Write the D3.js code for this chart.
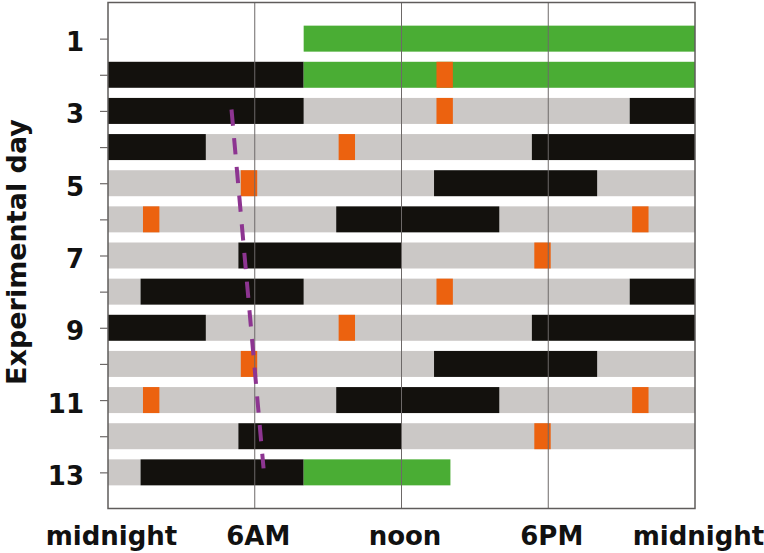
<!DOCTYPE html>
<html>
<head>
<meta charset="utf-8">
<script src="https://cdn.jsdelivr.net/npm/d3@7"></script>
<style>
  html, body { margin: 0; padding: 0; background: #ffffff; }
  svg { display: block; }
  text { font-family: "DejaVu Sans", sans-serif; font-weight: bold; fill: #111; }
</style>
</head>
<body>
<svg id="chart" width="764" height="553"></svg>
<script>
// ---------------- data ----------------
const days = [1, 2, 3, 4, 5, 6, 7, 8, 9, 10, 11, 12, 13];
const dayLabels = ["1", "", "3", "", "5", "", "7", "", "9", "", "11", "", "13"];
const hourTicks = [0, 6, 12, 18, 24];
const hourLabels = ["midnight", "6AM", "noon", "6PM", "midnight"];

// [day, startHour, endHour]
const lightSegments = [
  [3, 8, 21.33],
  [4, 4, 17.33],
  [5, 0, 13.33], [5, 20, 24],
  [6, 0, 9.33], [6, 16, 24],
  [7, 0, 5.33], [7, 12, 24],
  [8, 0, 1.33], [8, 8, 21.33],
  [9, 4, 17.33],
  [10, 0, 13.33], [10, 20, 24],
  [11, 0, 9.33], [11, 16, 24],
  [12, 0, 5.33], [12, 12, 24],
  [13, 0, 1.33]
];
const darkSegments = [
  [2, 0, 8],
  [3, 0, 8], [3, 21.33, 24],
  [4, 0, 4], [4, 17.33, 24],
  [5, 13.33, 20],
  [6, 9.33, 16],
  [7, 5.33, 12],
  [8, 1.33, 8], [8, 21.33, 24],
  [9, 0, 4], [9, 17.33, 24],
  [10, 13.33, 20],
  [11, 9.33, 16],
  [12, 5.33, 12],
  [13, 1.33, 8]
];
const constantSegments = [
  [1, 8, 24],
  [2, 8, 24],
  [13, 8, 14]
];
// [day, startHour, endHour]
const markers = [
  [2, 13.43, 14.1],
  [3, 13.43, 14.1],
  [4, 9.43, 10.1],
  [5, 5.43, 6.1],
  [6, 1.43, 2.1], [6, 21.43, 22.1],
  [7, 17.43, 18.1],
  [8, 13.43, 14.1],
  [9, 9.43, 10.1],
  [10, 5.43, 6.1],
  [11, 1.43, 2.1], [11, 21.43, 22.1],
  [12, 17.43, 18.1]
];
const trendHours = [5.05, 6.36];
const trendDays = [2.96, 12.89];

// ---------------- layout ----------------
const svg = d3.select("#chart");
const plotLeft = 108, plotRight = 695, plotTop = 2.5, plotBottom = 508.5;
const barH = 26;

const x = d3.scaleLinear().domain([0, 24]).range([plotLeft, plotRight]);
const y = d3.scalePoint().domain(days).range([plotTop, plotBottom]).padding(1);
const yLin = d3.scaleLinear().domain([0, 14]).range([plotTop, plotBottom]);

function drawSegs(data, color) {
  svg.append("g").selectAll("rect").data(data).join("rect")
    .attr("x", d => x(d[1]))
    .attr("y", d => y(d[0]) - barH / 2)
    .attr("width", d => x(d[2]) - x(d[1]))
    .attr("height", barH)
    .attr("fill", color);
}
drawSegs(lightSegments, "#cbc8c6");
drawSegs(darkSegments, "#13110d");
drawSegs(constantSegments, "#4aad34");
drawSegs(markers, "#ec620f");

// gridlines
svg.append("g").selectAll("line").data([6, 12, 18]).join("line")
  .attr("x1", d => x(d)).attr("x2", d => x(d))
  .attr("y1", plotTop).attr("y2", plotBottom)
  .attr("stroke", "#6d6968").attr("stroke-width", 1);

// trend line
const trend = trendHours.map((h, i) => [h, trendDays[i]]);
svg.append("path")
  .datum(trend)
  .attr("d", d3.line().x(d => x(d[0])).y(d => yLin(d[1])))
  .attr("fill", "none")
  .attr("stroke", "#8d3591")
  .attr("stroke-width", 4)
  .attr("stroke-dasharray", "16.3,12.5");

// frame
svg.append("rect")
  .attr("x", plotLeft).attr("y", plotTop)
  .attr("width", plotRight - plotLeft).attr("height", plotBottom - plotTop)
  .attr("fill", "none").attr("stroke", "#5f5c5b").attr("stroke-width", 1.5);

// y axis
const yAxis = svg.append("g")
  .attr("transform", `translate(${plotLeft},0)`)
  .call(d3.axisLeft(y).tickSize(8).tickPadding(16).tickFormat((d, i) => dayLabels[i]));
yAxis.select(".domain").remove();
yAxis.selectAll(".tick line").attr("stroke", "#6d6968").attr("stroke-width", 1.2);
yAxis.selectAll(".tick text")
  .attr("font-family", "DejaVu Sans, sans-serif")
  .attr("font-weight", "bold")
  .attr("font-size", 26)
  .attr("fill", "#111")
  .attr("dy", "0.46em");

// x axis
const xAxis = svg.append("g")
  .attr("transform", `translate(0,${plotBottom})`)
  .call(d3.axisBottom(x).tickValues(hourTicks).tickSize(0).tickFormat((d, i) => hourLabels[i]));
xAxis.select(".domain").remove();
xAxis.selectAll(".tick text")
  .attr("font-family", "DejaVu Sans, sans-serif")
  .attr("font-weight", "bold")
  .attr("font-size", 26)
  .attr("fill", "#111")
  .attr("x", 3)
  .attr("y", 36.5)
  .attr("dy", 0);

// y title
svg.append("text")
  .attr("transform", "rotate(-90)")
  .attr("x", -252)
  .attr("y", 25.5)
  .attr("text-anchor", "middle")
  .attr("font-size", 27)
  .text("Experimental day");
</script>
</body>
</html>
